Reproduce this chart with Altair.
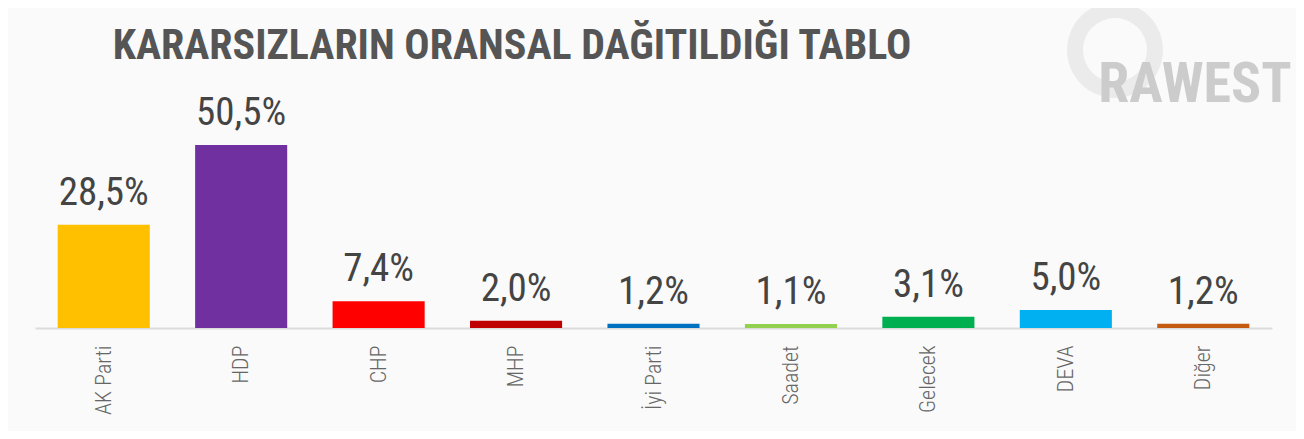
import altair as alt
import pandas as pd

parties = ["AK Parti", "HDP", "CHP", "MHP", "İyi Parti", "Saadet", "Gelecek", "DEVA", "Diğer"]
values = [28.5, 50.5, 7.4, 2.0, 1.2, 1.1, 3.1, 5.0, 1.2]
colors = ["#FFC000", "#7030A0", "#FF0000", "#C00000", "#0070C0", "#92D050", "#00B050", "#00B0F0", "#C55A11"]
title_text = "KARARSIZLARIN ORANSAL DAĞITILDIĞI TABLO"
watermark = "RAWEST"

df = pd.DataFrame({"party": parties, "value": values, "color": colors})

COND = "Roboto Condensed, DejaVu Sans Condensed, Liberation Sans Narrow, Roboto"

x = alt.X("party:N", sort=parties, title=None,
          scale=alt.Scale(paddingInner=0.33, paddingOuter=0.165),
          axis=alt.Axis(labelAngle=-90, labelFont=COND, labelFontSize=22, labelFontWeight=300,
                        labelColor="#666666", labelPadding=17, ticks=False,
                        domainColor="#dcdcdc", domainWidth=2, labelAlign="right",
                        labelBaseline="middle"))
y = alt.Y("value:Q", scale=alt.Scale(domain=[0, 85], nice=False), axis=None)

base = alt.Chart(df)
bars = base.mark_bar().encode(x=x, y=y, color=alt.Color("color:N", scale=None))
labels = base.transform_calculate(
    lbl="replace(format(datum.value, '.1f'), '.', ',') + '%'"
).mark_text(font=COND, fontSize=39, color="#444444", baseline="bottom", dy=-12).encode(
    x=x, y=y, text="lbl:N")

one = pd.DataFrame({"t": [title_text], "w": [watermark]})
title = alt.Chart(one).mark_text(font=COND, fontSize=42, fontWeight="bold", color="#555555",
                                 align="center", baseline="middle").encode(
    x=alt.value(477), y=alt.value(26), text="t:N")
ring = alt.Chart(one).mark_arc(innerRadius=32, outerRadius=48, theta=0, theta2=6.2832,
                               color="#ebebeb").encode(x=alt.value(1080), y=alt.value(30))
wm = alt.Chart(one).mark_text(font=COND, fontSize=56, fontWeight="bold", color="#cccccc",
                              align="center", baseline="middle").encode(
    x=alt.value(1160), y=alt.value(65), text="w:N")

chart = alt.layer(ring, wm, title, bars, labels).properties(
    width=1237, height=308,
    autosize=alt.AutoSizeParams(type="none"),
    padding={"left": 27, "top": 12, "right": 24, "bottom": 103},
    background="#fafafa",
).configure_view(stroke=None)

chart.save("out.html", embed_options={"renderer": "svg", "actions": False})
